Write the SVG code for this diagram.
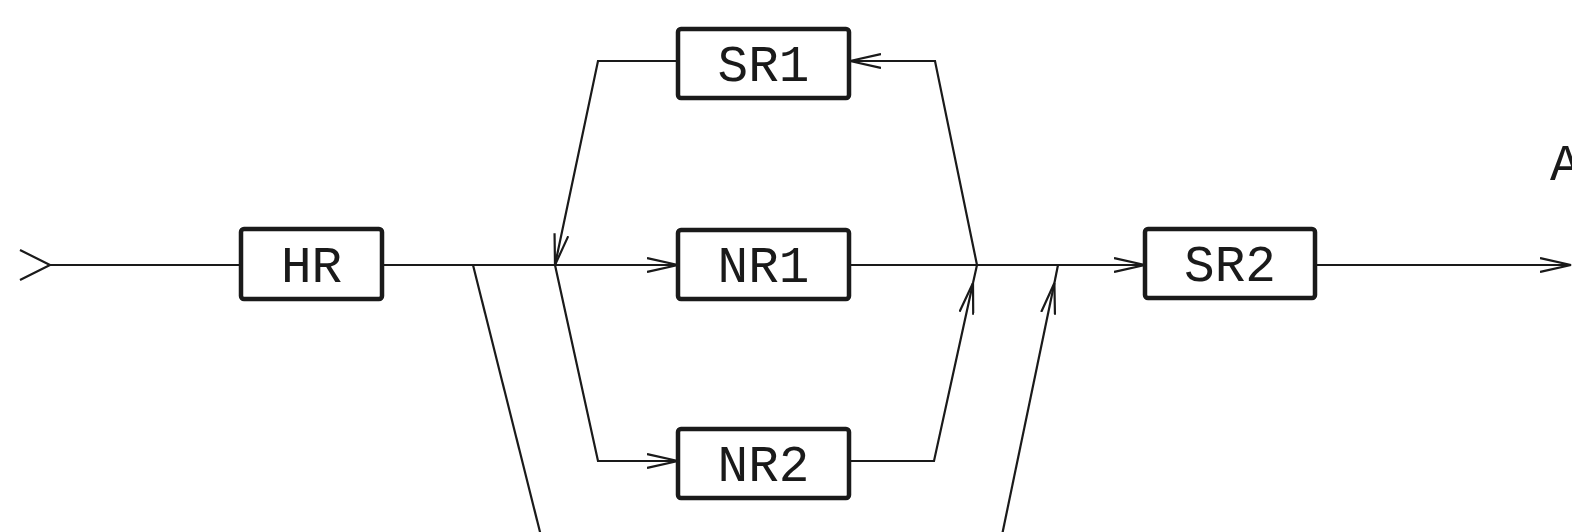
<svg xmlns="http://www.w3.org/2000/svg" width="1572" height="532" viewBox="0 0 1572 532">
<style>
.box{fill:#fff;stroke:#1a1a1a;stroke-width:4.5}
.lbl{font-family:"Liberation Mono","DejaVu Sans Mono",monospace;font-size:51px;fill:#1a1a1a;text-anchor:middle}
.ln{fill:none;stroke:#1a1a1a;stroke-width:2.2;stroke-linejoin:miter}
</style>
<defs>
<marker id="ah" markerUnits="userSpaceOnUse" viewBox="0 0 32 16" refX="31" refY="8" markerWidth="32" markerHeight="16" orient="auto">
<path d="M0,1 L31,8 L0,15" fill="none" stroke="#1a1a1a" stroke-width="2.2"/>
</marker>
</defs>
<rect width="1572" height="532" fill="#fff"/>
<g id="connectors">
<path class="ln" d="M20,250 L50,265 L20,280"/>
<path class="ln" d="M50,265 L241,265"/>
<path class="ln" d="M382,265 L678,265" marker-end="url(#ah)"/>
<path class="ln" d="M849,265 L1145,265" marker-end="url(#ah)"/>
<path class="ln" d="M1315,265 L1571,265" marker-end="url(#ah)"/>
<path class="ln" d="M678,61 L598,61 L555,265" marker-end="url(#ah)"/>
<path class="ln" d="M555,265 L598,461 L678,461" marker-end="url(#ah)"/>
<path class="ln" d="M849,461 L934,461 L973,283" marker-end="url(#ah)"/>
<path class="ln" d="M973,283 L977,265 L935,61 L850,61" marker-end="url(#ah)"/>
<path class="ln" d="M473,265 L542,540"/>
<path class="ln" d="M1001,540 L1054.4,283" marker-end="url(#ah)"/>
<path class="ln" d="M1054.4,283 L1058,265"/>
</g>
<g id="HR"><rect class="box" x="241" y="229" width="141" height="70" rx="3"/><text class="lbl" x="311.5" y="282">HR</text></g>
<g id="SR1"><rect class="box" x="678" y="29" width="171" height="69" rx="3"/><text class="lbl" x="763.5" y="81">SR1</text></g>
<g id="NR1"><rect class="box" x="678" y="230" width="171" height="69" rx="3"/><text class="lbl" x="763.5" y="282">NR1</text></g>
<g id="NR2"><rect class="box" x="678" y="429" width="171" height="69" rx="3"/><text class="lbl" x="763.5" y="481">NR2</text></g>
<g id="SR2"><rect class="box" x="1145" y="229" width="170" height="69" rx="3"/><text class="lbl" x="1230" y="281">SR2</text></g>
<g id="A"><text class="lbl" x="1550" y="180" style="text-anchor:start">A</text></g>
</svg>
